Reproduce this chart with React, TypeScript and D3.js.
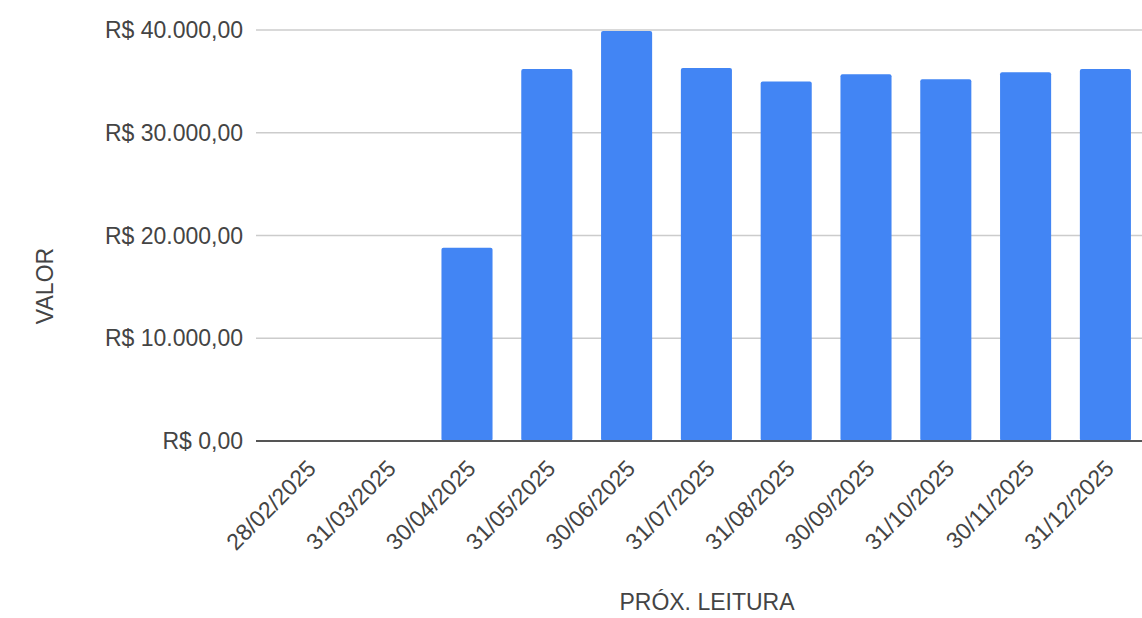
import React, { useRef, useEffect } from "react";
import * as d3 from "d3";

const WIDTH = 1142;
const HEIGHT = 618;
const COLOR_BAR = "#4285f4";
const COLOR_TEXT = "#444444";
const COLOR_GRID = "#cccccc";
const COLOR_BASE = "#555555";
const FONT = "'Liberation Sans', Arial, sans-serif";

const categories = [
  "28/02/2025",
  "31/03/2025",
  "30/04/2025",
  "31/05/2025",
  "30/06/2025",
  "31/07/2025",
  "31/08/2025",
  "30/09/2025",
  "31/10/2025",
  "30/11/2025",
  "31/12/2025",
];
const values = [0, 0, 18800, 36200, 39900, 36300, 35000, 35700, 35200, 35900, 36200];
const yTicks = [0, 10000, 20000, 30000, 40000];

const brl = (v: number) =>
  "R$ " +
  d3
    .format(",.2f")(v)
    .replace(/,/g, "#")
    .replace(".", ",")
    .replace(/#/g, ".");

export default function App() {
  const ref = useRef<SVGSVGElement>(null);

  useEffect(() => {
    const svg = d3.select(ref.current);
    svg.selectAll("*").remove();

    const gridLeft = 256;
    const x = d3
      .scaleBand<string>()
      .domain(categories)
      .range([267.5, 267.5 + 79.8 * categories.length])
      .paddingInner(0.36)
      .paddingOuter(0.18);
    const y = d3.scaleLinear().domain([0, 40000]).range([441, 30]);

    // gridlines
    svg
      .append("g")
      .selectAll("line")
      .data(yTicks.filter((t) => t !== 0))
      .enter()
      .append("line")
      .attr("x1", gridLeft)
      .attr("x2", WIDTH)
      .attr("y1", (d) => y(d))
      .attr("y2", (d) => y(d))
      .attr("stroke", COLOR_GRID)
      .attr("stroke-width", 1.5);

    // y tick labels
    svg
      .append("g")
      .selectAll("text")
      .data(yTicks)
      .enter()
      .append("text")
      .attr("x", 243)
      .attr("y", (d) => y(d))
      .attr("dy", "0.35em")
      .attr("text-anchor", "end")
      .attr("font-family", FONT)
      .attr("font-size", 23)
      .attr("fill", COLOR_TEXT)
      .text((d) => brl(d));

    // bars
    svg
      .append("g")
      .selectAll("rect")
      .data(values)
      .enter()
      .append("rect")
      .attr("x", (d, i) => x(categories[i]))
      .attr("width", x.bandwidth())
      .attr("y", (d) => y(d))
      .attr("height", (d) => y(0) - y(d))
      .attr("rx", 2)
      .attr("fill", COLOR_BAR);

    // baseline
    svg
      .append("line")
      .attr("x1", gridLeft)
      .attr("x2", WIDTH)
      .attr("y1", y(0))
      .attr("y2", y(0))
      .attr("stroke", COLOR_BASE)
      .attr("stroke-width", 2);

    // x tick labels
    svg
      .append("g")
      .selectAll("text")
      .data(categories)
      .enter()
      .append("text")
      .attr("transform", (d) => {
        const cx = x(d) + x.bandwidth() / 2;
        return `translate(${cx + 10},${470}) rotate(-45)`;
      })
      .attr("text-anchor", "end")
      .attr("font-family", FONT)
      .attr("font-size", 23)
      .attr("fill", COLOR_TEXT)
      .text((d) => d);

    // axis titles
    svg
      .append("text")
      .attr("x", 707)
      .attr("y", 610)
      .attr("text-anchor", "middle")
      .attr("font-family", FONT)
      .attr("font-size", 23)
      .attr("fill", COLOR_TEXT)
      .text("PRÓX. LEITURA");

    svg
      .append("text")
      .attr("transform", "translate(53,286) rotate(-90)")
      .attr("text-anchor", "middle")
      .attr("font-family", FONT)
      .attr("font-size", 23)
      .attr("fill", COLOR_TEXT)
      .text("VALOR");
  }, []);

  return (
    <div style={{ position: "fixed", left: 0, top: 0 }}>
      <svg ref={ref} width={WIDTH} height={HEIGHT} style={{ display: "block", background: "#fff" }} />
    </div>
  );
}
